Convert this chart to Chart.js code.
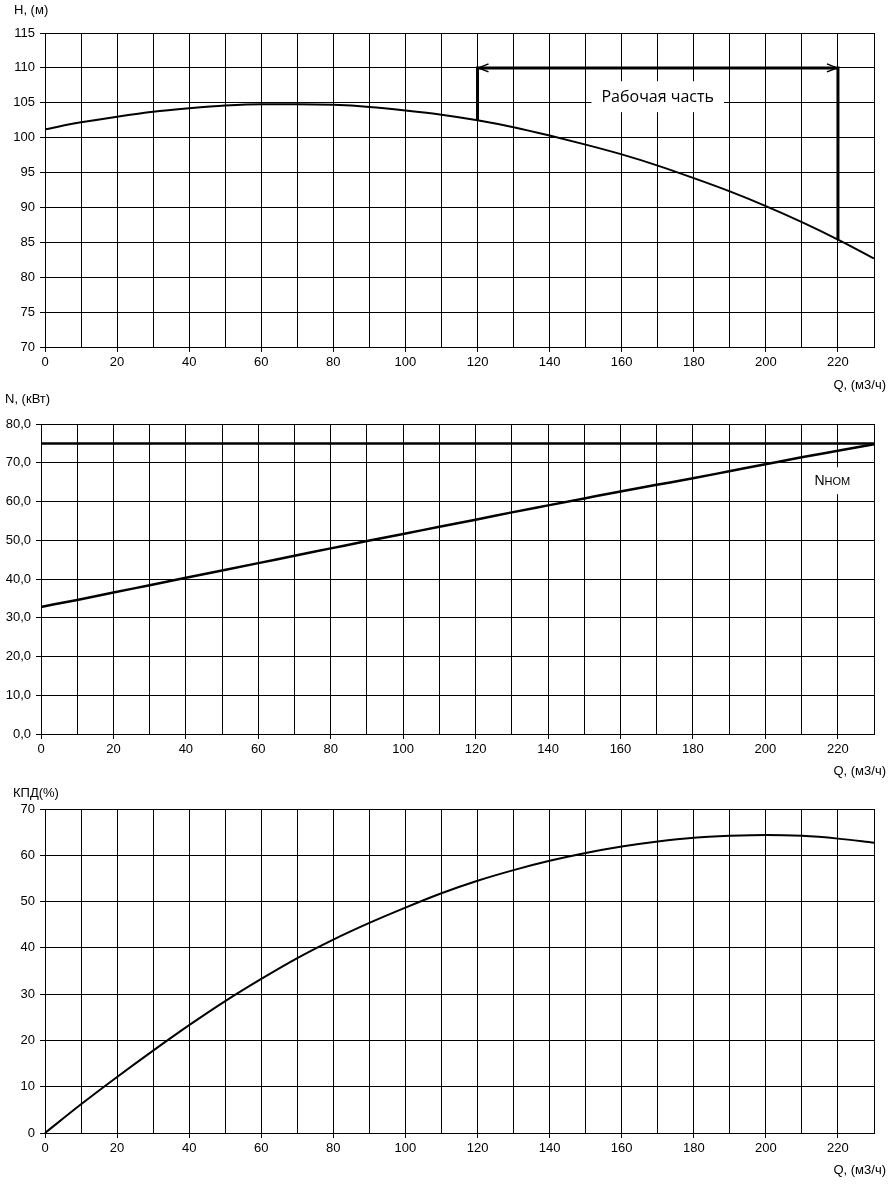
<!DOCTYPE html>
<html>
<head>
<meta charset="utf-8">
<script src="https://cdn.jsdelivr.net/npm/chart.js@4"></script>
<style>
  body { margin: 0; background: #fff; width: 894px; height: 1185px; position: relative; overflow: hidden; }
  .box { position: absolute; left: 0; width: 894px; }
</style>
</head>
<body>
<div class="box" style="top:0;height:396px"><canvas id="cH"></canvas></div>
<div class="box" style="top:390px;height:390px"><canvas id="cN"></canvas></div>
<div class="box" style="top:780px;height:405px"><canvas id="cE"></canvas></div>
<script>
// flow, m3/h
const flow = [0,10,20,30,40,50,60,70,80,90,100,110,120,130,140,150,160,170,180,190,200,210,220,230];
// head H, m
const head = [101.2,102.2,103.0,103.7,104.2,104.6,104.8,104.8,104.7,104.4,103.9,103.3,102.5,101.5,100.3,99.0,97.6,96.0,94.2,92.3,90.2,87.9,85.4,82.7];
// power N, kW
const power = [32.8,34.6,36.5,38.4,40.3,42.2,44.1,46.0,47.9,49.8,51.6,53.5,55.3,57.2,59.0,60.8,62.6,64.3,66.0,67.8,69.6,71.4,73.1,74.8];
// efficiency, %
const eff = [0,6.2,12.1,17.8,23.3,28.5,33.3,37.8,41.8,45.4,48.7,51.8,54.5,56.8,58.8,60.5,61.9,63.0,63.8,64.2,64.4,64.2,63.6,62.7];

// working range bracket
const workQ = [120,120,220,220];
const workH = [102.5,110,110,85.4];
// nominal power line
const nomQ = [0,230];
const nomN = [75,75];

const pts = (xs, ys) => xs.map((x, i) => ({ x, y: ys[i] }));
const FONT = "'Liberation Sans', Arial, sans-serif";

// text in absolute canvas pixels (axis captions)
function captions(list) {
  return {
    id: "captions",
    afterDraw(chart) {
      const c = chart.ctx;
      c.save();
      c.fillStyle = "#000";
      c.font = "13px " + FONT;
      c.textBaseline = "middle";
      list.forEach(t => { c.textAlign = t.align || "left"; c.fillText(t.text, t.x, t.y); });
      c.restore();
    }
  };
}

function makeChart(id, cfg) {
  const xScale = {
    type: "linear", min: 0, max: 230,
    ticks: { stepSize: 10, color: "#000", font: { family: FONT, size: 13 }, padding: 3, maxRotation: 0,
      autoSkip: false, callback: v => (v % 20 === 0 && v < 230) ? v : "" },
    grid: { color: "#000", lineWidth: 1, tickLength: 5,
      tickColor: ctx => (ctx.tick && ctx.tick.value % 20 === 0 && ctx.tick.value < 230) ? "#000" : "rgba(0,0,0,0)" },
    border: { color: "#000", width: 1 },
    afterFit: s => { s.height = cfg.xh; }
  };
  const yScale = {
    type: "linear", min: cfg.ymin, max: cfg.ymax,
    ticks: { stepSize: cfg.ystep, color: "#000", font: { family: FONT, size: 13 }, padding: 5, autoSkip: false,
      callback: cfg.yfmt || (v => v) },
    grid: { color: "#000", lineWidth: 1, tickLength: 5 },
    border: { color: "#000", width: 1 },
    afterFit: s => { s.width = cfg.yw; }
  };
  return new Chart(document.getElementById(id), {
    type: "line",
    data: { datasets: cfg.datasets },
    options: {
      responsive: true, maintainAspectRatio: false, animation: false,
      layout: { padding: { left: 0, right: 20, top: cfg.top, bottom: 0 } },
      plugins: { legend: { display: false }, tooltip: { enabled: false } },
      elements: { point: { radius: 0 } },
      scales: { x: xScale, y: yScale }
    },
    plugins: cfg.plugins
  });
}

function curve(data, w) {
  return { data, borderColor: "#000", borderWidth: w, fill: false, tension: 0.4, cubicInterpolationMode: "monotone", clip: false };
}

// arrows + label for working range
const workLabel = {
  id: "workLabel",
  afterDatasetsDraw(chart) {
    const c = chart.ctx, xs = chart.scales.x, ys = chart.scales.y;
    const y = ys.getPixelForValue(110);
    const x1 = xs.getPixelForValue(120), x2 = xs.getPixelForValue(220);
    c.save();
    c.strokeStyle = "#000";
    c.lineWidth = 1.5;
    c.beginPath();
    c.moveTo(x1 + 11, y - 4); c.lineTo(x1 + 1, y); c.lineTo(x1 + 11, y + 4);
    c.moveTo(x2 - 11, y - 4); c.lineTo(x2 - 1, y); c.lineTo(x2 - 11, y + 4);
    c.stroke();
    const tx = xs.getPixelForValue(170), ty = ys.getPixelForValue(105.8);
    c.font = "16px 'Open Sans', sans-serif";
    const w = c.measureText("Рабочая часть").width;
    c.fillStyle = "#fff";
    c.fillRect(tx - w / 2 - 10, ty - 16, w + 20, 31);
    c.fillStyle = "#000";
    c.textAlign = "center"; c.textBaseline = "middle";
    c.fillText("Рабочая часть", tx, ty);
    c.restore();
  }
};

const nomLabel = {
  id: "nomLabel",
  afterDatasetsDraw(chart) {
    const c = chart.ctx, xs = chart.scales.x, ys = chart.scales.y;
    const tx = xs.getPixelForValue(218.5), ty = ys.getPixelForValue(65.5);
    c.save();
    c.fillStyle = "#fff";
    c.fillRect(tx - 25, ty - 13, 50, 27);
    c.fillStyle = "#000";
    c.textBaseline = "alphabetic";
    c.font = "14px " + FONT;
    const wN = c.measureText("N").width;
    c.font = "11px " + FONT;
    const wS = c.measureText("НОМ").width;
    let x = tx - (wN + wS) / 2;
    c.font = "14px " + FONT;
    c.fillText("N", x, ty + 5);
    c.font = "11px " + FONT;
    c.fillText("НОМ", x + wN, ty + 5);
    c.restore();
  }
};

makeChart("cH", {
  top: 33, xh: 49, yw: 45, ymin: 70, ymax: 115, ystep: 5,
  datasets: [
    curve(pts(flow, head), 2),
    { data: pts(workQ, workH), borderColor: "#000", borderWidth: 3, tension: 0, fill: false }
  ],
  plugins: [workLabel, captions([
    { text: "H, (м)", x: 14, y: 10 },
    { text: "Q, (м3/ч)", x: 886, y: 385, align: "right" }
  ])]
});

makeChart("cN", {
  top: 34, xh: 46, yw: 41, ymin: 0, ymax: 80, ystep: 10,
  yfmt: v => v.toFixed(1).replace(".", ","),
  datasets: [
    { data: pts(nomQ, nomN), borderColor: "#000", borderWidth: 2.5, tension: 0, fill: false },
    curve(pts(flow, power), 2.5)
  ],
  plugins: [nomLabel, captions([
    { text: "N, (кВт)", x: 5, y: 9 },
    { text: "Q, (м3/ч)", x: 886, y: 381, align: "right" }
  ])]
});

makeChart("cE", {
  top: 29, xh: 52, yw: 45, ymin: 0, ymax: 70, ystep: 10,
  datasets: [curve(pts(flow, eff), 2)],
  plugins: [captions([
    { text: "КПД(%)", x: 13, y: 13 },
    { text: "Q, (м3/ч)", x: 886, y: 390, align: "right" }
  ])]
});
</script>
</body>
</html>
